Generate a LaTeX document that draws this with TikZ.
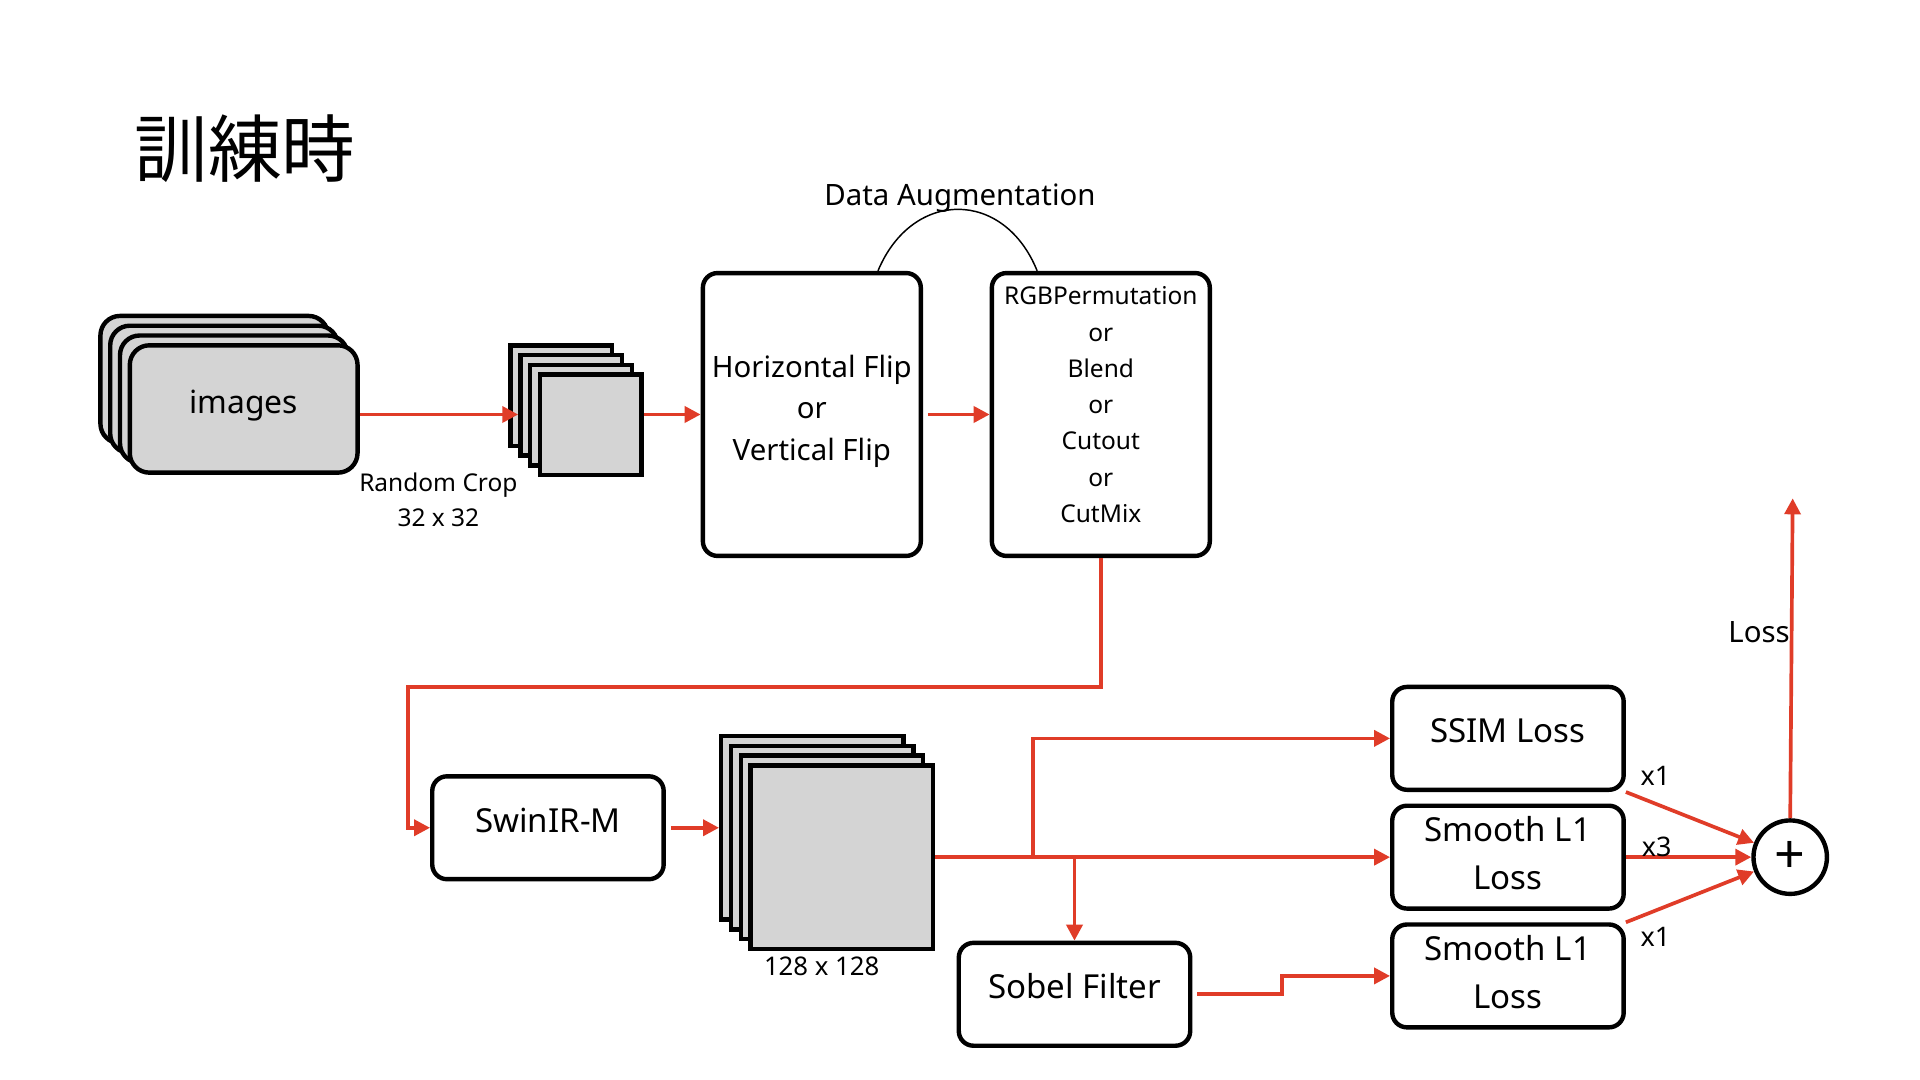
\documentclass[tikz,border=0pt]{standalone}
\usepackage{fontspec}
\setmainfont{Noto Sans}
\newfontfamily\cjk{Noto Sans CJK JP}
\usetikzlibrary{arrows.meta}
\definecolor{arrred}{RGB}{224,60,40}
\definecolor{boxgray}{RGB}{212,212,212}
\begin{document}
\begin{tikzpicture}[x=0.5pt,y=-0.5pt,
  box/.style={draw=black,line width=1.8pt,rounded corners=6pt,fill=white,inner sep=0pt},
  smallbox/.style={box,minimum width=94.5pt,minimum height=42pt},
  tallbox/.style={box,minimum width=89pt,minimum height=115.5pt},
  imgsheet/.style={draw=black,line width=1.8pt,rounded corners=8pt,fill=boxgray,inner sep=0pt,minimum width=93pt,minimum height=52pt},
  cropsheet/.style={draw=black,line width=1.8pt,fill=boxgray,inner sep=0pt,minimum width=41.5pt,minimum height=41pt},
  outsheet/.style={draw=black,line width=1.8pt,fill=boxgray,inner sep=0pt,minimum width=74.5pt,minimum height=75pt},
  flow/.style={draw=arrred,line width=1.5pt,-{Triangle[length=6.5pt,width=6.5pt]}},
  boxtext/.style={font=\fontsize{13.5}{19.5}\selectfont,align=center,inner sep=0pt},
  small/.style={font=\fontsize{10}{14.5}\selectfont,align=center,inner sep=0pt},
  weight/.style={font=\fontsize{11}{13}\selectfont,inner sep=0pt}]
\fill[white] (0,0) rectangle (1568,882);
\useasboundingbox (0,0) rectangle (1568,882);

% title
\node[font=\cjk\fontsize{30}{30}\selectfont,inner sep=0pt] (title) at (200,121) {訓練時};

% images stack
\node[imgsheet] (img3) at (175,310) {};
\node[imgsheet] (img2) at (183,318) {};
\node[imgsheet] (img1) at (191,326) {};
\node[imgsheet,label={[yshift=1.3pt,font=\fontsize{13}{15}\selectfont,inner sep=0pt]center:images}] (img) at (199,334) {};

% crop stack
\node[cropsheet] (crop3) at (458.5,323) {};
\node[cropsheet] (crop2) at (466.5,331) {};
\node[cropsheet] (crop1) at (474.5,339) {};
\node[cropsheet] (crop) at (482.5,347) {};
\node[small] (croplbl) at (358,408) {Random Crop\\32 x 32};

% augmentation boxes
\node[tallbox,label={[yshift=1.3pt,font=\fontsize{12}{17}\selectfont,align=center,inner sep=0pt]center:Horizontal Flip\\or\\Vertical Flip}] (hf) at (663,338.5) {};
\node[tallbox,label={[yshift=4pt,font=\fontsize{10}{14.8}\selectfont,align=center,inner sep=0pt]center:RGBPermutation\\or\\Blend\\or\\Cutout\\or\\CutMix}] (rgb) at (899,338.5) {};
\node[font=\fontsize{12}{14}\selectfont,inner sep=0pt] (aug) at (784,162) {Data Augmentation};
\draw[line width=0.6pt] ([xshift=27pt]hf.north) .. controls +(14pt,33.5pt) and +(-13.5pt,33.5pt) .. ([xshift=-26pt]rgb.north);

% model
\node[smallbox,label={[yshift=3pt,boxtext]center:SwinIR-M}] (swin) at (447.5,676) {};

% output stack
\node[outsheet] (out3) at (663.5,676) {};
\node[outsheet] (out2) at (671.5,684) {};
\node[outsheet] (out1) at (679.5,692) {};
\node[outsheet] (out) at (687.5,700) {};
\node[font=\fontsize{10.5}{12}\selectfont,inner sep=0pt] (outlbl) at (671,789) {128 x 128};

% loss boxes
\node[smallbox,label={[yshift=3pt,boxtext]center:SSIM Loss}] (ssim) at (1231.5,603) {};
\node[smallbox,label={[yshift=1.5pt,boxtext]center:Smooth L1\\Loss}] (l1a) at (1231.5,700) {};
\node[smallbox,label={[yshift=1.5pt,boxtext]center:Smooth L1\\Loss}] (l1b) at (1231.5,797) {};
\node[smallbox,label={[yshift=3.3pt,boxtext]center:Sobel Filter}] (sobel) at (877.5,812) {};

\node[draw=black,line width=1.8pt,circle,fill=white,minimum size=30pt,inner sep=0pt,font=\fontsize{22}{22}\selectfont] (plus) at (1462,700) {+};
\coordinate (lossout) at (1464,407);

% connectors
\draw[flow] (img.east |- hf.west) -- (crop2.west |- hf.west);
\draw[flow] (crop.east |- hf.west) -- (hf.west);
\draw[flow,shorten <=2pt] (hf.east) -- (rgb.west);
\draw[flow] (rgb.south) -- ++(0,105) -| ([xshift=-9pt]swin.west) -- (swin.west);
\draw[flow,shorten <=2pt] (swin.east) -- (out3.west |- swin.east);
\draw[flow] (out.east) -- ++(80,0) |- (ssim.west);
\draw[flow] (out.east) -- (l1a.west);
\draw[flow] (out.east) -| (sobel.north);
\draw[flow,shorten <=2pt] (sobel.east) -- ++(73,0) |- (l1b.west);
\draw[flow] (ssim.south east) -- (plus);
\draw[flow] (l1a.east) -- (plus);
\draw[flow] (l1b.north east) -- (plus);
\draw[flow] (plus.north) -- (lossout);

% weights and loss label
\node[weight] (w1) at (1352,634) {x1};
\node[weight] (w3) at (1353,692) {x3};
\node[weight] (w2) at (1352,765) {x1};
\node[font=\fontsize{12}{14}\selectfont,inner sep=0pt,anchor=east] (losslbl) at (1462,516) {Loss};
\end{tikzpicture}
\end{document}
